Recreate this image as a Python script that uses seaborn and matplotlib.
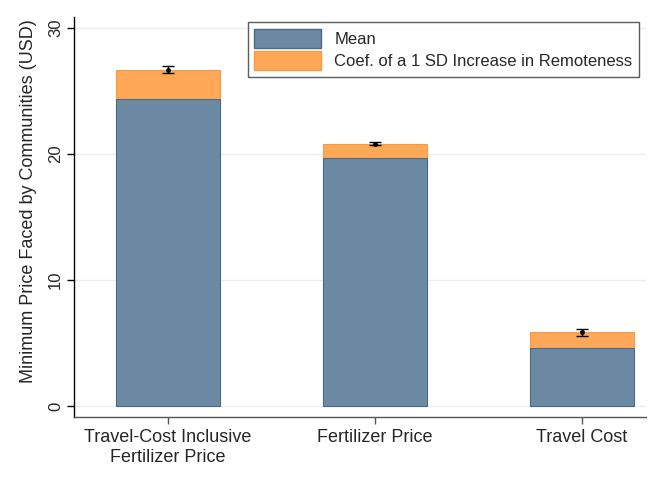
import numpy as np
import pandas as pd
import seaborn as sns
import matplotlib.pyplot as plt
from matplotlib.patches import Patch

categories = ["Travel-Cost Inclusive\nFertilizer Price", "Fertilizer Price", "Travel Cost"]
mean_price = [24.35, 19.7, 4.6]
remote_coef = [2.35, 1.1, 1.25]
coef_se = [0.25, 0.12, 0.28]

sns.set_style("white")
plt.rcParams['font.family'] = ['Liberation Sans', 'DejaVu Sans']

blue = "#6c89a4"
orange = "#ffa858"

df = pd.DataFrame({"cat": categories, "mean": mean_price, "coef": remote_coef, "se": coef_se})
df["total"] = df["mean"] + df["coef"]

fig = plt.figure(figsize=(6.64, 4.83), dpi=100)
# axes box in pixels: left 74, right 646, top 17, bottom 417
ax = fig.add_axes([74 / 664, 1 - 417 / 483, 572 / 664, 400 / 483])

for y in [0, 10, 20, 30]:
    ax.axhline(y, color="#eaf0f1", lw=1, zorder=0)

sns.barplot(data=df, x="cat", y="total", color=orange, width=0.5, saturation=1,
            edgecolor="#f59a45", linewidth=0.8, ax=ax, zorder=2)
sns.barplot(data=df, x="cat", y="mean", color=blue, width=0.5, saturation=1,
            edgecolor="#4a6a8a", linewidth=0.8, ax=ax, zorder=3)

ax.errorbar(np.arange(len(df)), df["total"], yerr=df["se"], fmt="o", color="black",
            ms=2.5, capsize=4, elinewidth=1, capthick=1, zorder=4)

ax.set_xlim(-0.454, 2.309)
ax.set_ylim(-0.873, 30.87)
ax.set_yticks([0, 10, 20, 30])
ax.set_yticklabels(["0", "10", "20", "30"], rotation=90, va="center", fontsize=12)
ax.tick_params(axis="y", length=5, width=1, color="black", pad=3, left=True)
ax.tick_params(axis="x", length=5, width=1, color="#555555", labelsize=13, bottom=True, pad=4)
ax.set_xlabel("")
ax.set_ylabel("Minimum Price Faced by Communities (USD)", fontsize=13)
ax.yaxis.set_label_coords(-0.065, 0.54)

for s in ["top", "right"]:
    ax.spines[s].set_visible(False)
ax.spines["left"].set_color("black")
ax.spines["bottom"].set_color("#555555")
for s in ["left", "bottom"]:
    ax.spines[s].set_linewidth(1)

handles = [Patch(facecolor=blue, edgecolor="#4a6a8a", label="Mean"),
           Patch(facecolor=orange, edgecolor="#f59a45", label="Coef. of a 1 SD Increase in Remoteness")]
leg = fig.legend(handles=handles, loc="upper right", bbox_to_anchor=(639 / 664, 1 - 22 / 483),
                 borderaxespad=0, fontsize=12, frameon=True, fancybox=False,
                 handlelength=4.0, handleheight=1.4, borderpad=0.4, labelspacing=0.2,
                 handletextpad=0.8)
leg.get_frame().set_edgecolor("#333333")
leg.get_frame().set_linewidth(1)

fig.savefig("out.png", dpi=100)
